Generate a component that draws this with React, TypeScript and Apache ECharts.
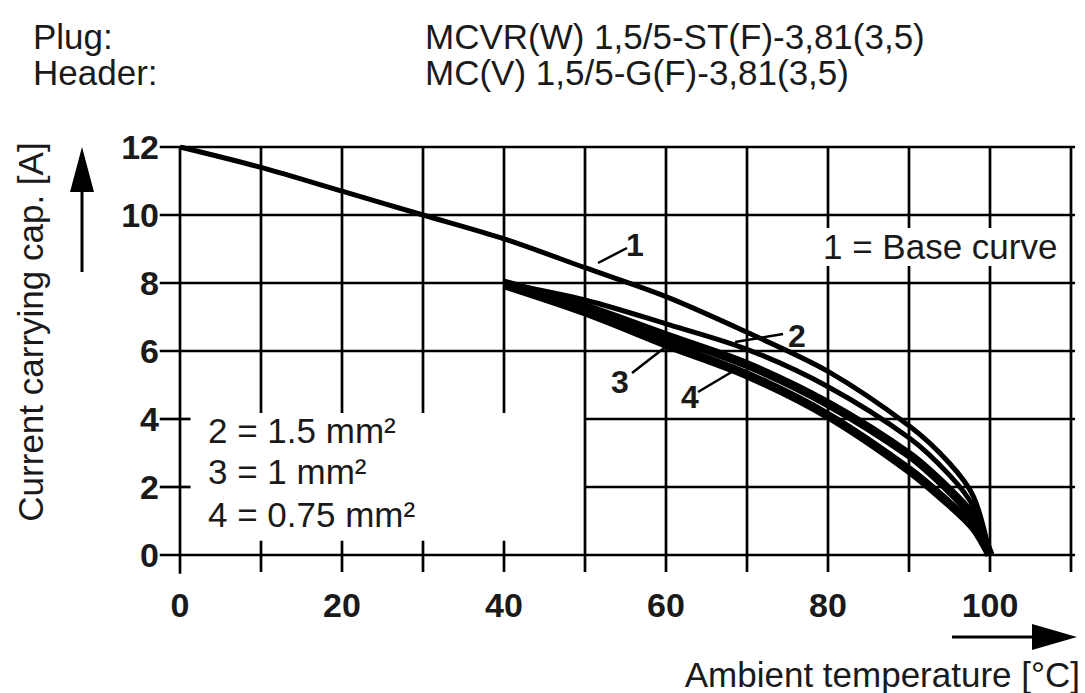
import React, { useEffect, useRef } from "react";
import * as echarts from "echarts";

// ---- data ----
const tempTicks = [0, 10, 20, 30, 40, 50, 60, 70, 80, 90, 100, 110];
const currentTicks = [0, 2, 4, 6, 8, 10, 12];
const tempLabels = [0, 20, 40, 60, 80, 100];

// Curve 1 = base curve
const baseTemp = [0, 10, 20, 30, 40, 50, 60, 70, 80, 90, 95, 98, 100];
const baseCurrent = [12, 11.4, 10.7, 10.0, 9.3, 8.45, 7.6, 6.55, 5.4, 3.8, 2.7, 1.7, 0];

// Curves 2, 3, 4 (conductor cross sections)
const wireTemp = [40, 50, 60, 70, 80, 90, 95, 98, 100];
const curve2 = [8.0, 7.5, 6.8, 6.05, 4.95, 3.45, 2.35, 1.4, 0];
const curve3 = [8.0, 7.3, 6.45, 5.6, 4.45, 2.95, 1.9, 1.1, 0];
const curve4 = [7.95, 7.15, 6.2, 5.3, 4.1, 2.5, 1.5, 0.8, 0];

const FONT = "'Liberation Sans', Arial, Helvetica, sans-serif";
const INK = "#1a1a1a";

export default function App() {
  const ref = useRef<HTMLDivElement>(null);

  useEffect(() => {
    document.body.style.margin = "0";
    const chart = echarts.init(ref.current!, null, { renderer: "svg" });

    // structural grid segments built from the tick arrays
    const segs: number[][] = [];
    currentTicks.forEach((v) => {
      if (v === 2 || v === 4) {
        segs.push([-2.5, v, 1.3, v]);
        segs.push([50, v, 110.5, v]);
      } else {
        segs.push([-2.5, v, 110.5, v]);
      }
    });
    tempTicks.forEach((t) => {
      if (t === 0) segs.push([t, -0.55, t, 12]);
      else if (t <= 40) {
        segs.push([t, 4.18, t, 12]);
        segs.push([t, -0.5, t, 0.42]);
      } else segs.push([t, -0.5, t, 12]);
    });

    const pairs = (xs: number[], ys: number[]) => xs.map((x, i) => [x, ys[i]]);

    const lineSeries = (name: string, data: number[][], width: number) => ({
      name,
      type: "line",
      data,
      smooth: 0.3,
      symbol: "none",
      showSymbol: false,
      silent: true,
      z: 3,
      lineStyle: { color: "#000", width },
    });

    const txt = (text: string, x: number, y: number, size: number, extra: any = {}) => ({
      type: "text",
      x,
      y,
      z: 20,
      silent: true,
      style: {
        text,
        fontSize: size,
        fontFamily: FONT,
        fill: INK,
        verticalAlign: "middle",
        textVerticalAlign: "middle",
        ...extra,
      },
    });

    const seg = (x1: number, y1: number, x2: number, y2: number, w = 2.5) => ({
      type: "line",
      z: 20,
      silent: true,
      shape: { x1, y1, x2, y2 },
      style: { stroke: "#000", lineWidth: w },
    });

    const option: any = {
      animation: false,
      backgroundColor: "#fff",
      grid: { left: 180, right: 14, top: 147, bottom: 138 },
      xAxis: {
        type: "value",
        min: 0,
        max: 110,
        interval: 10,
        axisLine: { show: false },
        axisTick: { show: false },
        splitLine: { show: false },
        axisLabel: {
          margin: 33,
          fontSize: 34,
          fontWeight: "bold",
          fontFamily: FONT,
          color: INK,
          formatter: (v: number) => (tempLabels.indexOf(v) >= 0 ? String(v) : ""),
        },
      },
      yAxis: {
        type: "value",
        min: 0,
        max: 12,
        interval: 2,
        axisLine: { show: false },
        axisTick: { show: false },
        splitLine: { show: false },
        axisLabel: {
          margin: 21,
          fontSize: 34,
          fontWeight: "bold",
          fontFamily: FONT,
          color: INK,
        },
      },
      series: [
        {
          type: "custom",
          silent: true,
          z: 1,
          clip: false,
          data: segs,
          encode: { x: [0, 2], y: [1, 3] },
          renderItem: (params: any, api: any) => {
            const p1 = api.coord([api.value(0), api.value(1)]);
            const p2 = api.coord([api.value(2), api.value(3)]);
            return {
              type: "line",
              shape: { x1: p1[0], y1: p1[1], x2: p2[0], y2: p2[1] },
              style: { stroke: "#000", lineWidth: 2.7 },
            };
          },
        },
        lineSeries("1", pairs(baseTemp, baseCurrent), 5),
        lineSeries("2", pairs(wireTemp, curve2), 5),
        lineSeries("3", pairs(wireTemp, curve3), 9),
        lineSeries("4", pairs(wireTemp, curve4), 9),
      ],
      graphic: [
        txt("Plug:", 33, 36, 35),
        txt("Header:", 33, 72, 35),
        txt("MCVR(W) 1,5/5-ST(F)-3,81(3,5)", 425, 36, 35),
        txt("MC(V) 1,5/5-G(F)-3,81(3,5)", 425, 72, 35),
        {
          type: "text",
          x: 30,
          y: 332,
          rotation: Math.PI / 2,
          z: 20,
          silent: true,
          style: {
            text: "Current carrying cap. [A]",
            fontSize: 35,
            fontFamily: FONT,
            fill: INK,
            align: "center",
            textAlign: "center",
            verticalAlign: "middle",
            textVerticalAlign: "middle",
          },
        },
        txt("Ambient temperature [°C]", 1080, 674, 35, {
          align: "right",
          textAlign: "right",
          lineHeight: 30,
        }),
        // white box behind base-curve note
        {
          type: "rect",
          z: 15,
          silent: true,
          shape: { x: 818, y: 228, width: 246, height: 38 },
          style: { fill: "#fff" },
        },
        txt("1 = Base curve", 823, 246, 35),
        txt("2 = 1.5 mm²", 208, 430, 35),
        txt("3 = 1 mm²", 208, 471, 35),
        txt("4 = 0.75 mm²", 208, 514, 35),
        // curve labels and leaders
        seg(598, 263, 627, 248),
        txt("1", 635, 245, 32, { align: "center", textAlign: "center", fontWeight: "bold" }),
        seg(735, 342, 783, 334),
        txt("2", 797, 336, 32, { align: "center", textAlign: "center", fontWeight: "bold" }),
        seg(632, 373, 668, 345),
        txt("3", 620, 382, 32, { align: "center", textAlign: "center", fontWeight: "bold" }),
        seg(698, 392, 735, 370),
        txt("4", 690, 397, 32, { align: "center", textAlign: "center", fontWeight: "bold" }),
        // axis direction arrows
        seg(82, 272, 82, 185, 3),
        {
          type: "polygon",
          z: 20,
          silent: true,
          shape: { points: [[70, 192], [94, 192], [82, 147]] },
          style: { fill: "#000" },
        },
        seg(952, 637, 1040, 637, 3),
        {
          type: "polygon",
          z: 20,
          silent: true,
          shape: { points: [[1032, 624], [1032, 650], [1077, 637]] },
          style: { fill: "#000" },
        },
      ],
    };

    chart.setOption(option);
    return () => chart.dispose();
  }, []);

  return <div ref={ref} style={{ width: 1085, height: 693 }} />;
}
